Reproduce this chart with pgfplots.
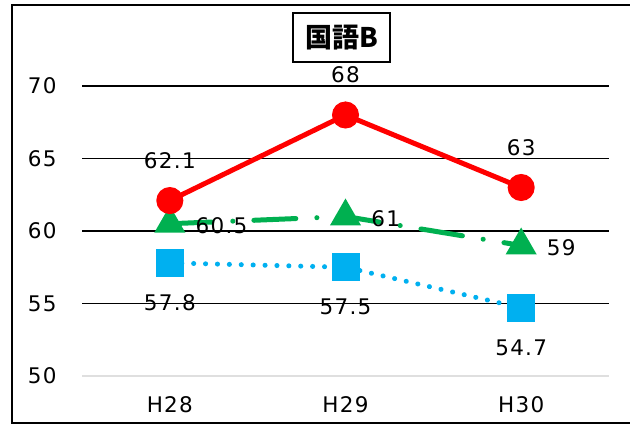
\documentclass[border=0pt]{standalone}
\usepackage{fontspec}
\setmainfont{DejaVu Sans}[LetterSpace=6]
\newfontfamily\cjk{Noto Sans CJK JP}
\usepackage{pgfplots}
\pgfplotsset{compat=1.18}

\definecolor{xlred}{RGB}{255,0,0}
\definecolor{xlgreen}{RGB}{0,176,80}
\definecolor{xlblue}{RGB}{0,176,240}

\begin{document}
\begin{tikzpicture}
\useasboundingbox (0,0) rectangle (630bp,425bp);
% outer frame (right side cut off)
\draw[line width=2bp] (632bp,420bp) -- (12bp,420bp) -- (12bp,2bp) -- (632bp,2bp);

\begin{axis}[
    at={(82bp,49bp)},
    anchor=south west,
    scale only axis,
    width=527bp,
    height=290bp,
    xmin=-0.5, xmax=2.5,
    ymin=50, ymax=70,
    xtick={0,1,2},
    xticklabels={H28,H29,H30},
    ytick={55,60,65,70},
    extra y ticks={50},
    extra y tick style={major grid style={gray!25, line width=1.5bp}},
    axis line style={draw=none},
    major tick length=0pt,
    ymajorgrids=true,
    grid style={black, line width=1.4bp},
    ticklabel style={font=\fontsize{21.5bp}{24bp}\selectfont},
    yticklabel style={xshift=-22bp},
    xticklabel style={yshift=-17bp},
    /pgf/number format/assume math mode=true,
    clip=false,
    nodes near coords,
    every node near coord/.append style={font=\fontsize{21.5bp}{24bp}\selectfont, text=black},
]
% blue
\addplot[
    color=xlblue,
    line width=5bp,
    line cap=round,
    dash pattern=on 0.1bp off 11.8bp,
    mark=square*,
    mark size=11.5bp,
    mark options={solid, draw=none, fill=xlblue},
    nodes near coords style={anchor=center, yshift=-40bp},
] coordinates {
    (0,57.8)
    (1,57.5)
    (2,54.7)
};
% green
\addplot[
    color=xlgreen,
    line width=5bp,
    line cap=round,
    dash pattern=on 42bp off 21bp on 0.1bp off 21bp,
    mark=triangle*,
    mark size=13bp,
    mark options={solid, draw=none, fill=xlgreen},
    nodes near coords style={anchor=west, xshift=20bp, yshift=-2bp},
] coordinates {
    (0,60.5)
    (1,61)
    (2,59)
};
% red
\addplot[
    color=xlred,
    line width=5bp,
    mark=*,
    mark size=11bp,
    mark options={solid, draw=none, fill=xlred},
    nodes near coords style={anchor=center, yshift=40bp},
] coordinates {
    (0,62.1)
    (1,68)
    (2,63)
};
\end{axis}

\node[draw, line width=2bp, inner sep=0pt, minimum width=97bp, minimum height=49bp,
      fill=white, font=\cjk\bfseries\fontsize{27bp}{30bp}\selectfont]
      at (341.5bp,387.5bp) {国語B};
\end{tikzpicture}
\end{document}
